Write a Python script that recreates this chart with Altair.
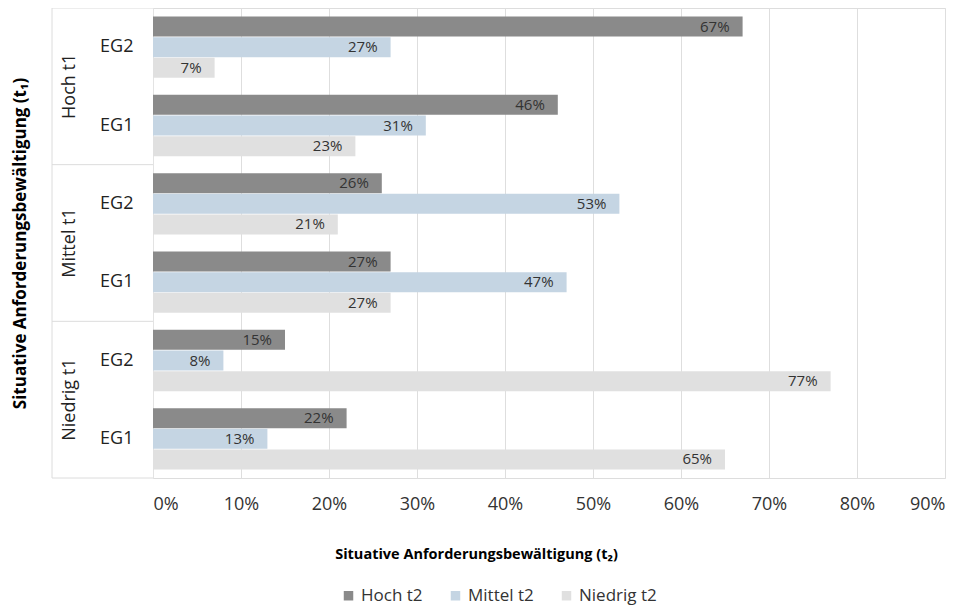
import altair as alt
import pandas as pd

groups = ["Hoch t1", "Mittel t1", "Niedrig t1"]
subgroups = ["EG2", "EG1"]
series = ["Hoch t2", "Mittel t2", "Niedrig t2"]
colors = ["#8a8a8a", "#c5d5e3", "#e0e0e0"]

# values per (group, subgroup): [Hoch t2, Mittel t2, Niedrig t2]
hoch_eg2 = [0.67, 0.27, 0.07]
hoch_eg1 = [0.46, 0.31, 0.23]
mittel_eg2 = [0.26, 0.53, 0.21]
mittel_eg1 = [0.27, 0.47, 0.27]
niedrig_eg2 = [0.15, 0.08, 0.77]
niedrig_eg1 = [0.22, 0.13, 0.65]

values = {
    ("Hoch t1", "EG2"): hoch_eg2,
    ("Hoch t1", "EG1"): hoch_eg1,
    ("Mittel t1", "EG2"): mittel_eg2,
    ("Mittel t1", "EG1"): mittel_eg1,
    ("Niedrig t1", "EG2"): niedrig_eg2,
    ("Niedrig t1", "EG1"): niedrig_eg1,
}

rows = []
row_order = []
for g in groups:
    for s in subgroups:
        key = f"{g}|{s}"
        row_order.append(key)
        for ser, v in zip(series, values[(g, s)]):
            rows.append({"row": key, "series": ser, "value": v})
df = pd.DataFrame(rows)

FONT = "Open Sans"
W, H = 792, 470

base = alt.Chart(df)

yenc = alt.Y(
    "row:N",
    sort=row_order,
    scale=alt.Scale(paddingInner=0.22, paddingOuter=0.11),
    axis=alt.Axis(
        title="Situative Anforderungsbewältigung (t₁)",
        titleFont=FONT, titleFontSize=17, titleFontWeight="bold", titleColor="#000000",
        titleX=-133, titleY=H / 2, titleAngle=270, titleAlign="center", titleBaseline="middle",
        labelExpr="split(datum.value, '|')[1]",
        labelFont=FONT, labelFontSize=18, labelColor="#222222", labelPadding=20,
        ticks=False, domain=True, domainColor="#e3e3e3", grid=False,
    ),
)

xenc = alt.X(
    "value:Q",
    scale=alt.Scale(domain=[0, 0.9], nice=False),
    axis=alt.Axis(
        title="Situative Anforderungsbewältigung (t₂)",
        titleFont=FONT, titleFontSize=14.5, titleFontWeight="bold", titleColor="#000000",
        titlePadding=34, titleX=323, titleAlign="center",
        format=".0%", values=[i / 10 for i in range(10)],
        labelFont=FONT, labelFontSize=18, labelColor="#333333", labelPadding=17,
        ticks=False, domain=False, grid=True, gridColor="#dedede", gridWidth=1,
    ),
)

bars = base.mark_bar(size=20).encode(
    x=xenc,
    y=yenc,
    yOffset=alt.YOffset("series:N", sort=series, scale=alt.Scale(paddingInner=0.04)),
    color=alt.Color(
        "series:N",
        sort=series,
        scale=alt.Scale(domain=series, range=colors),
        legend=alt.Legend(
            title=None, orient="none", direction="horizontal",
            legendX=187, legendY=579, padding=0,
            symbolType="square", symbolSize=90, symbolStrokeWidth=0,
            labelFont=FONT, labelFontSize=17, labelColor="#333333",
            columnPadding=24, labelOffset=4,
        ),
    ),
)

labels = base.mark_text(
    align="right", baseline="middle", dx=-13, font=FONT, fontSize=15, color="#333333"
).encode(
    x="value:Q",
    y=alt.Y("row:N", sort=row_order),
    yOffset=alt.YOffset("series:N", sort=series),
    text=alt.Text("value:Q", format=".0%"),
)

main = alt.layer(bars, labels)

# left two-level axis decoration
gdf = pd.DataFrame({"group": groups, "pos": [0.5, 1.5, 2.5]})
sep = pd.DataFrame({"pos": [0, 1, 2, 3]})
ysc = alt.Scale(domain=[0, 3], nice=False, zero=False, reverse=True)

seps = alt.Chart(sep).mark_rule(color="#dcdcdc", strokeWidth=1).encode(
    y=alt.Y("pos:Q", scale=ysc, axis=None),
    x=alt.value(-101),
    x2=alt.value(0),
)
vline = alt.Chart(pd.DataFrame({"a": [0], "b": [3]})).mark_rule(
    color="#dcdcdc", strokeWidth=1
).encode(
    y=alt.Y("a:Q", scale=ysc, axis=None),
    y2="b:Q",
    x=alt.value(-101),
)
gtext = alt.Chart(gdf).mark_text(
    angle=270, align="center", baseline="middle", font=FONT, fontSize=18, color="#222222"
).encode(
    y=alt.Y("pos:Q", scale=ysc, axis=None),
    x=alt.value(-83),
    text="group:N",
)

deco = alt.layer(seps, vline, gtext)

chart = (
    alt.layer(main, deco)
    .resolve_scale(y="independent")
    .properties(
        width=W,
        height=H,
        autosize=alt.AutoSizeParams(type="none"),
        padding={"left": 145, "top": 0, "right": 15, "bottom": 128},
    )
    .configure_view(stroke=None)
    .configure(background="white")
)

chart.save("out.html", embed_options={"renderer": "svg", "actions": False})
